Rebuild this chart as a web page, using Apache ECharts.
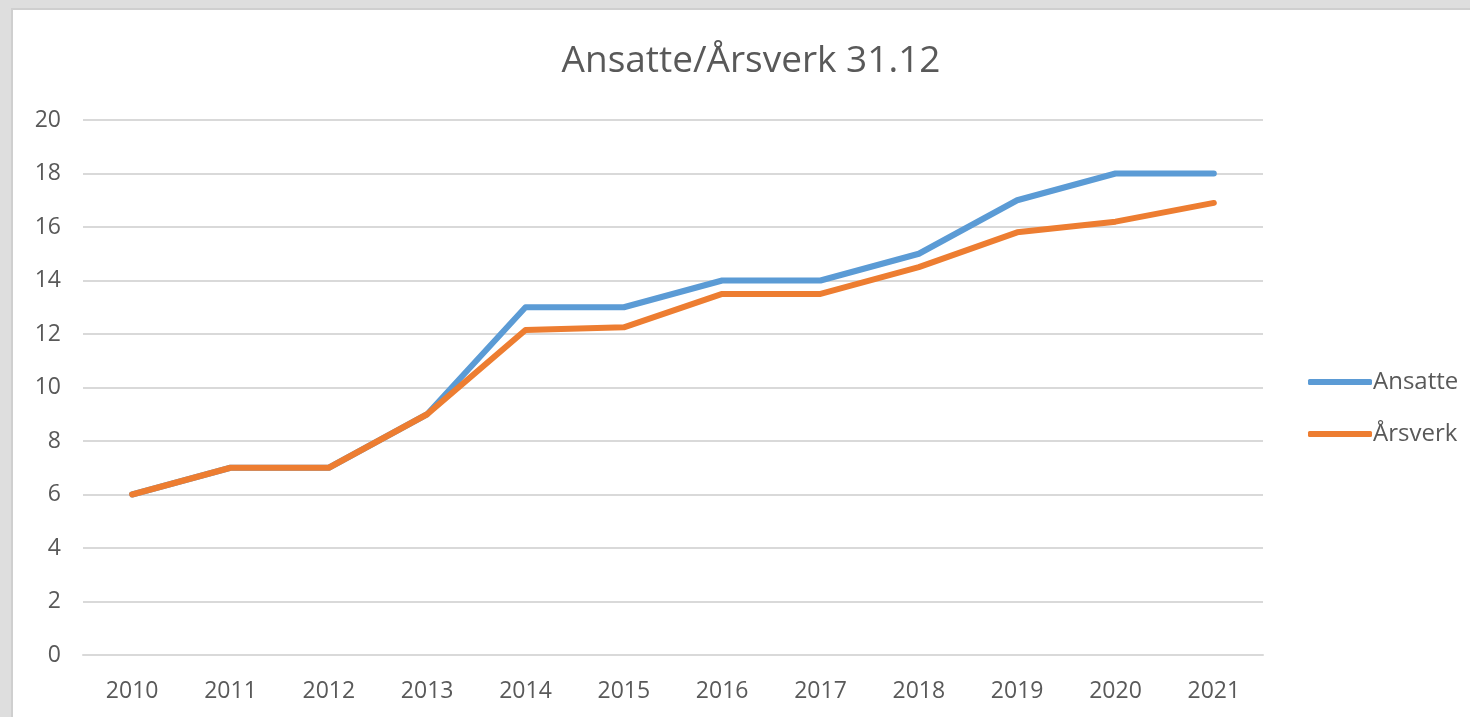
<!DOCTYPE html>
<html>
<head>
<meta charset="utf-8">
<script src="https://cdn.jsdelivr.net/npm/echarts@6/dist/echarts.min.js"></script>
<style>
  html, body { margin: 0; padding: 0; width: 1470px; height: 717px; overflow: hidden; background: #dedede; }
  #paper { position: absolute; left: 11px; top: 8px; width: 1459px; height: 709px; background: #fff;
           border-left: 2px solid #cfcfcf; border-top: 2px solid #cfcfcf; box-sizing: border-box; }
  #chart { position: absolute; left: 0; top: 0; width: 1470px; height: 717px; }
</style>
</head>
<body>
<div id="paper"></div>
<div id="chart"></div>
<script>
// data
const years = ['2010', '2011', '2012', '2013', '2014', '2015', '2016', '2017', '2018', '2019', '2020', '2021'];
const ansatte = [6, 7, 7, 9, 13, 13, 14, 14, 15, 17, 18, 18];
const arsverk = [6, 7, 7, 9, 12.15, 12.25, 13.5, 13.5, 14.5, 15.8, 16.2, 16.9];

const font = '"Open Sans", "Noto Sans", sans-serif';
const grey = '#595959';

const myChart = echarts.init(document.getElementById('chart'));
const option = {
  backgroundColor: 'transparent',
  animation: false,
  title: {
    text: 'Ansatte/Årsverk 31.12',
    left: 746,
    top: 38,
    textAlign: 'center',
    textStyle: { fontFamily: font, fontSize: 37, fontWeight: 'normal', color: grey }
  },
  legend: {
    orient: 'vertical',
    left: 1303,
    top: 365,
    itemWidth: 64,
    itemHeight: 6,
    itemGap: 28,
    icon: 'roundRect',
    textStyle: { fontFamily: font, fontSize: 24, color: grey, padding: [0, 0, 0, -4] },
    data: ['Ansatte', 'Årsverk']
  },
  grid: { left: 83, right: 207, top: 120, bottom: 62 },
  xAxis: {
    type: 'category',
    data: years,
    boundaryGap: true,
    axisLine: { lineStyle: { color: '#d9d9d9', width: 2 } },
    axisTick: { show: false },
    axisLabel: { fontFamily: font, fontSize: 23, color: grey, margin: 25 }
  },
  yAxis: {
    type: 'value',
    min: 0,
    max: 20,
    interval: 2,
    axisLine: { show: false },
    axisTick: { show: false },
    axisLabel: { fontFamily: font, fontSize: 23, color: grey, margin: 22 },
    splitLine: { lineStyle: { color: '#d9d9d9', width: 2 } }
  },
  series: [
    {
      name: 'Ansatte',
      type: 'line',
      data: ansatte,
      showSymbol: false,
      color: '#5b9bd5',
      lineStyle: { width: 6, cap: 'round', join: 'round' }
    },
    {
      name: 'Årsverk',
      type: 'line',
      data: arsverk,
      showSymbol: false,
      color: '#ed7d31',
      lineStyle: { width: 6, cap: 'round', join: 'round' }
    }
  ]
};
myChart.setOption(option);
</script>
</body>
</html>
